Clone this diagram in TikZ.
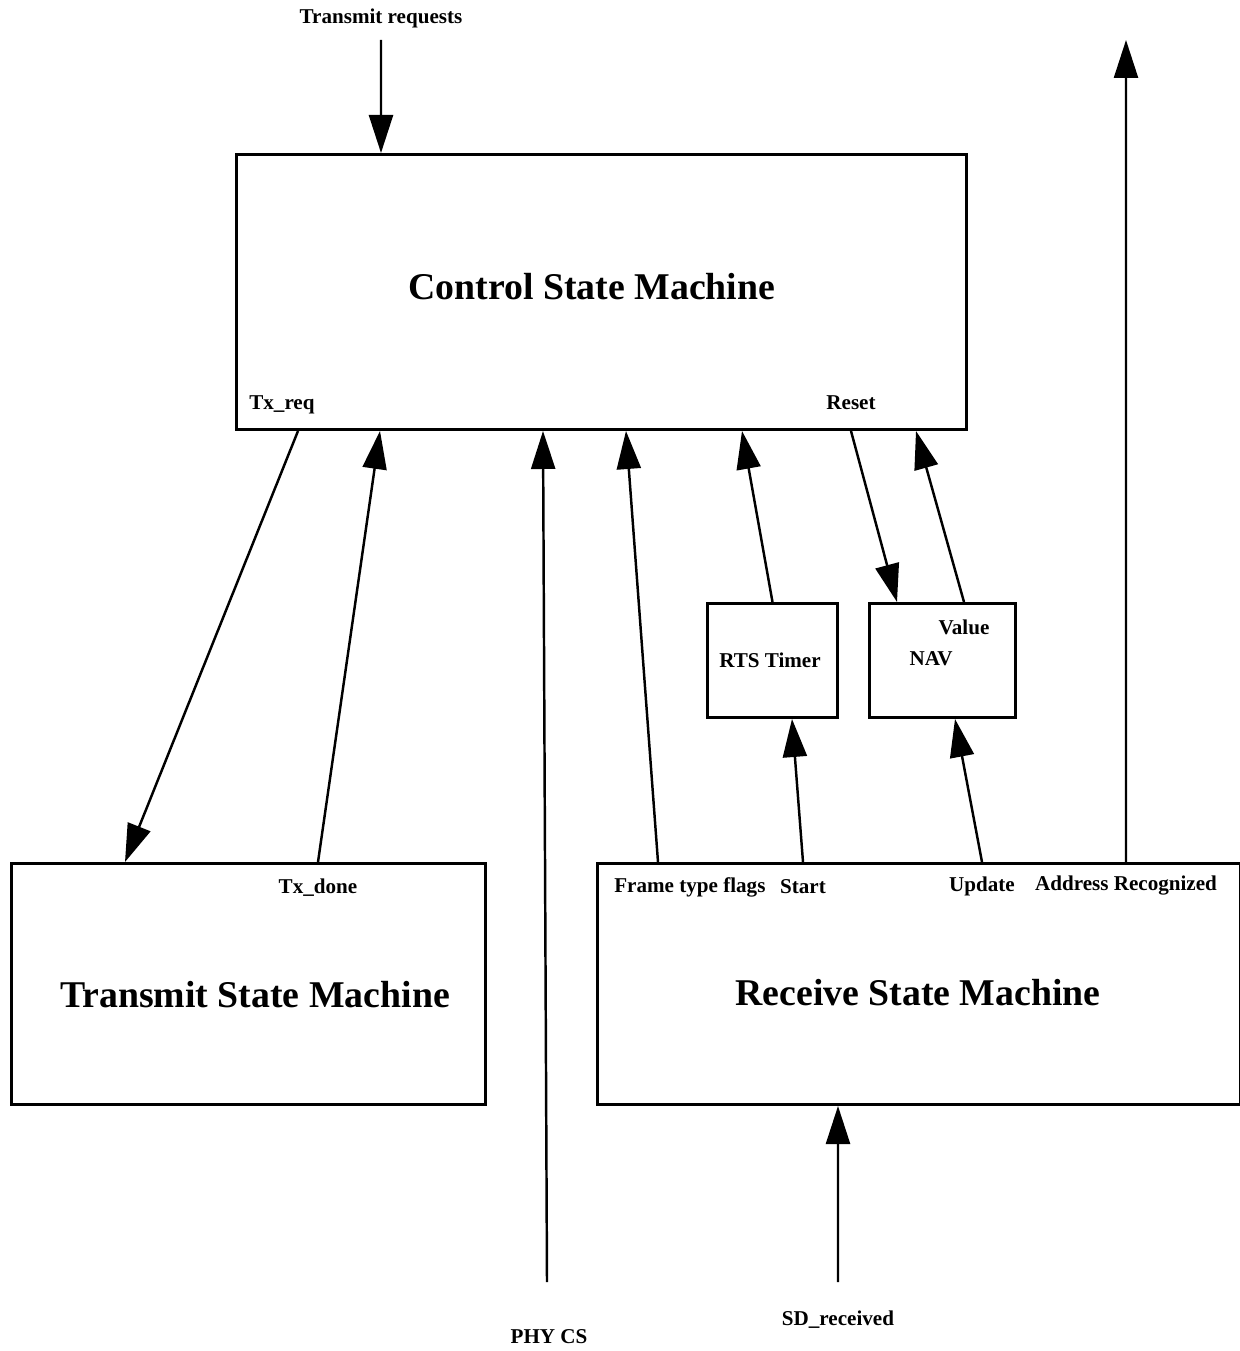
\documentclass[tikz,border=0pt]{standalone}
\usepackage{fontspec}
\setmainfont{Liberation Serif}
\usetikzlibrary{arrows.meta}

\tikzset{
  box/.style={draw, line width=1.7pt, anchor=north west, inner sep=0pt},
  sig/.style={line width=1.4pt, -{Triangle[length=0.76cm,width=0.48cm]}},
  lbl/.style={inner sep=0pt, font=\fontsize{12}{14}\selectfont\bfseries},
  title/.style={inner sep=0pt, font=\fontsize{21.5}{25}\selectfont\bfseries},
}

\begin{document}
\begin{tikzpicture}
\useasboundingbox (0,0) rectangle (24.8,-27.02);

% state machines and blocks
\node[box, minimum width=14.6cm, minimum height=5.5cm] (ctrl) at (4.70,-3.06) {};
\node[box, minimum width=9.48cm, minimum height=4.82cm] (tx) at (0.20,-17.24) {};
\node[box, minimum width=12.86cm, minimum height=4.82cm] (rx) at (11.92,-17.24) {};
\node[box, minimum width=2.6cm, minimum height=2.28cm] (rts) at (14.12,-12.04) {};
\node[box, minimum width=2.92cm, minimum height=2.28cm] (nav) at (17.36,-12.04) {};

\node[title] (ctrltitle) at (11.84,-5.74) {Control State Machine};
\node[title] (txtitle) at (5.10,-19.90) {Transmit State Machine};
\node[title] (rxtitle) at (18.36,-19.86) {Receive State Machine};

% free ends
\coordinate (treq) at (7.62,-0.80);
\coordinate (addr) at (22.52,-0.80);
\coordinate (phy) at (10.94,-25.64);
\coordinate (sd) at (16.76,-25.64);

% signals
\draw[sig] (treq) -- ([xshift=2.92cm]ctrl.north west);
\draw[sig] ([xshift=1.26cm]ctrl.south west) -- ([xshift=2.30cm]tx.north west);
\draw[sig] ([xshift=6.16cm]tx.north west) -- ([xshift=2.90cm]ctrl.south west);
\draw[sig] (phy) -- ([xshift=6.16cm]ctrl.south west);
\draw[sig] ([xshift=1.24cm]rx.north west) -- ([xshift=7.82cm]ctrl.south west);
\draw[sig] (rts.north) -- ([xshift=10.14cm]ctrl.south west);
\draw[sig] ([xshift=4.14cm]rx.north west) -- ([xshift=1.72cm]rts.south west);
\draw[sig] ([xshift=12.32cm]ctrl.south west) -- ([xshift=0.58cm]nav.north west);
\draw[sig] ([xshift=1.92cm]nav.north west) -- ([xshift=13.62cm]ctrl.south west);
\draw[sig] ([xshift=7.72cm]rx.north west) -- ([xshift=1.74cm]nav.south west);
\draw[sig] ([xshift=10.6cm]rx.north west) -- (addr);
\draw[sig] (sd) -- ([xshift=4.84cm]rx.south west);

% labels
\node[lbl] (ltreq) at (7.62,-0.36) {Transmit requests};
\node[lbl, anchor=west] (ltxreq) at (4.98,-8.10) {Tx\_req};
\node[lbl] (lreset) at (17.02,-8.06) {Reset};
\node[lbl] (ltxdone) at (6.36,-17.76) {Tx\_done};
\node[lbl, anchor=west] (lframe) at (12.28,-17.74) {Frame type flags};
\node[lbl] (lstart) at (16.06,-17.74) {Start};
\node[lbl] (lupdate) at (19.64,-17.72) {Update};
\node[lbl] (laddr) at (22.52,-17.72) {Address Recognized};
\node[lbl] (lrts) at (15.40,-13.20) {RTS Timer};
\node[lbl] (lvalue) at (19.28,-12.54) {Value};
\node[lbl] (lnav) at (18.62,-13.18) {NAV};
\node[lbl] (lphy) at (10.98,-26.74) {PHY CS};
\node[lbl] (lsd) at (16.76,-26.40) {SD\_received};
\end{tikzpicture}
\end{document}
